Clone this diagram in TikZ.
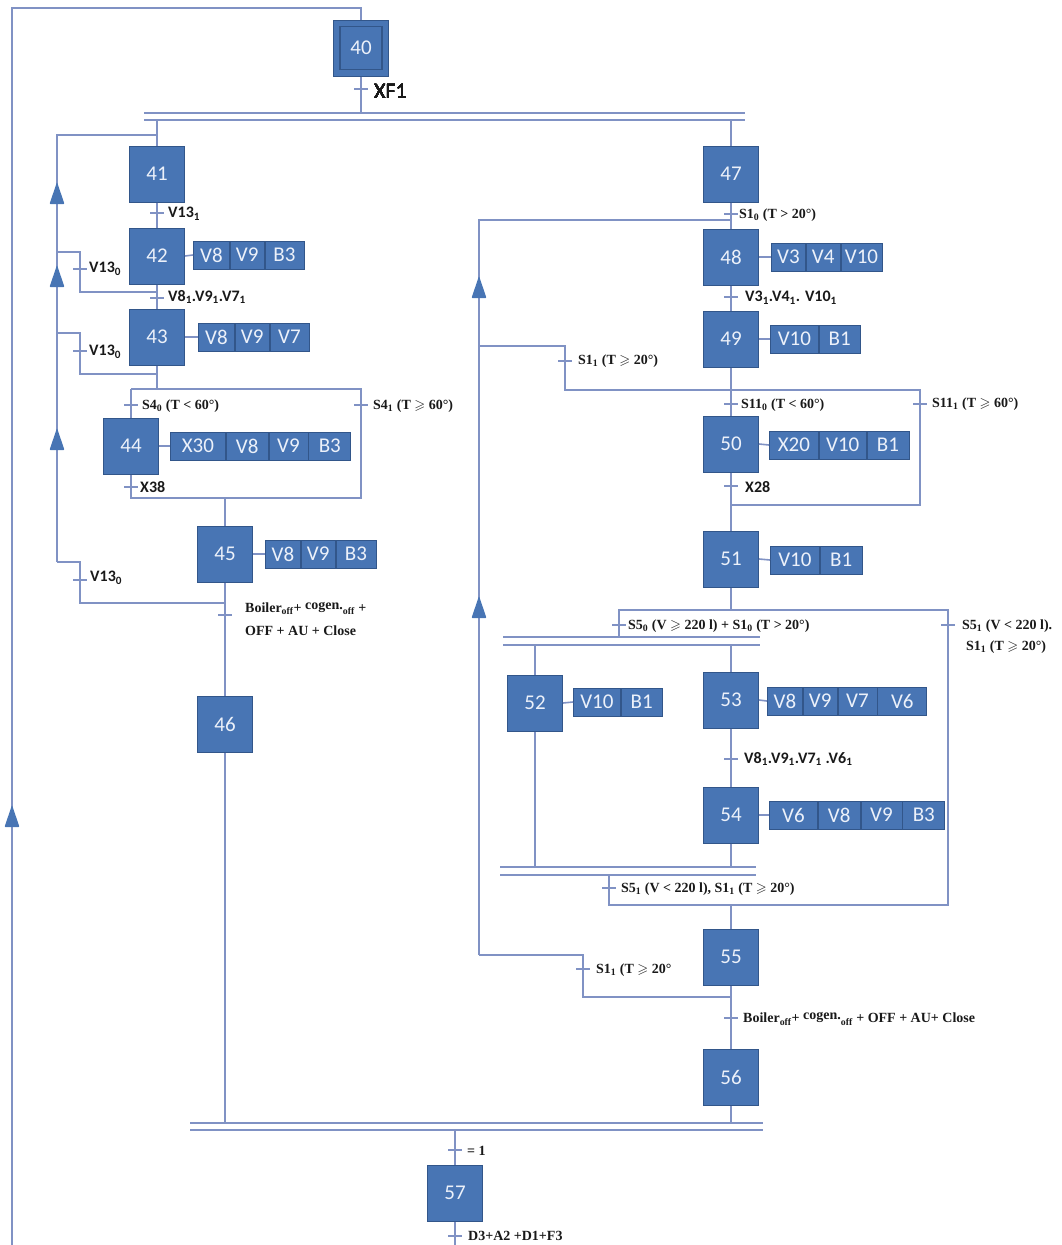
\documentclass[tikz,border=0pt]{standalone}
\usepackage{fontspec}
\usepackage{amssymb}
\setmainfont{Liberation Serif}
\newfontfamily\calib{Carlito}
\definecolor{stepfill}{RGB}{72,117,180}
\definecolor{stepdraw}{RGB}{50,86,138}
\definecolor{wirecol}{RGB}{128,146,196}
\definecolor{txtcol}{RGB}{25,25,25}
\definecolor{steptxt}{RGB}{236,241,250}
\newcommand{\gsl}{\ensuremath{\geqslant}}
\newcommand{\lsb}[1]{\textsubscript{#1}}
\newcommand{\tk}[1]{\draw[wireline] ([xshift=-7pt]#1) -- ([xshift=7pt]#1);}
\newcommand{\uparr}[2]{\fill[stepfill, rounded corners=0.8pt] ({#1-7.5},{#2+11}) -- ({#1},{#2-11}) -- ({#1+7.5},{#2+11}) -- cycle;}
\tikzset{
  wireline/.style={draw=wirecol, line width=1.6pt},
  stepbox/.style={draw=stepdraw, fill=stepfill, line width=1pt, minimum width=55pt, minimum height=56pt, inner sep=0pt, text=steptxt, font=\calib\fontsize{21}{21}\selectfont},
  cell/.style={draw=stepdraw, fill=stepfill, line width=0.8pt, minimum height=28pt, inner sep=0pt, text=steptxt, font=\calib\fontsize{21}{21}\selectfont, anchor=west},
  slab/.style={anchor=west, inner sep=0pt, text=txtcol, font=\calib\bfseries\fontsize{16}{16}\selectfont},
  rlab/.style={anchor=west, inner sep=0pt, text=txtcol, font=\bfseries\fontsize{14}{14}\selectfont},
}
\begin{document}
\begin{tikzpicture}[x=1pt,y=-1pt]
\useasboundingbox (0,0) rectangle (1061,1245);
% ---------- steps ----------
\node[stepbox] (s40) at (361,48) {40};
\draw[stepdraw, line width=1.5pt] ([shift={(7pt,7pt)}]s40.south west) rectangle ([shift={(-7pt,-7pt)}]s40.north east);
\node[stepbox] (s41) at (157,174) {41};
\node[stepbox] (s42) at (157,256) {42};
\node[stepbox] (s43) at (157,337) {43};
\node[stepbox] (s44) at (131,446) {44};
\node[stepbox] (s45) at (225,554) {45};
\node[stepbox] (s46) at (225,724) {46};
\node[stepbox] (s47) at (731,174) {47};
\node[stepbox] (s48) at (731,257) {48};
\node[stepbox] (s49) at (731,339) {49};
\node[stepbox] (s50) at (731,444) {50};
\node[stepbox] (s51) at (731,559) {51};
\node[stepbox] (s52) at (535,703) {52};
\node[stepbox] (s53) at (731,700) {53};
\node[stepbox] (s54) at (731,815) {54};
\node[stepbox] (s55) at (731,957) {55};
\node[stepbox] (s56) at (731,1077) {56};
\node[stepbox] (s57) at (455,1193) {57};
% ---------- actions ----------
\node[cell, minimum width=36pt] (a42a) at (193,255) {V8};
\node[cell, minimum width=34pt] (a42b) at (a42a.east) {V9};
\node[cell, minimum width=39pt] (a42c) at (a42b.east) {B3};
\node[cell, minimum width=36pt] (a43a) at (198,337) {V8};
\node[cell, minimum width=34pt] (a43b) at (a43a.east) {V9};
\node[cell, minimum width=39pt] (a43c) at (a43b.east) {V7};
\node[cell, minimum width=55pt] (a44a) at (170,446) {X30};
\node[cell, minimum width=42pt] (a44b) at (a44a.east) {V8};
\node[cell, minimum width=39pt] (a44c) at (a44b.east) {V9};
\node[cell, minimum width=42pt] (a44d) at (a44c.east) {B3};
\node[cell, minimum width=35pt] (a45a) at (265,554) {V8};
\node[cell, minimum width=34pt] (a45b) at (a45a.east) {V9};
\node[cell, minimum width=40pt] (a45c) at (a45b.east) {B3};
\node[cell, minimum width=34pt] (a48a) at (771,257) {V3};
\node[cell, minimum width=34pt] (a48b) at (a48a.east) {V4};
\node[cell, minimum width=41pt] (a48c) at (a48b.east) {V10};
\node[cell, minimum width=48pt] (a49a) at (770,339) {V10};
\node[cell, minimum width=41pt] (a49b) at (a49a.east) {B1};
\node[cell, minimum width=49pt] (a50a) at (769,445) {X20};
\node[cell, minimum width=47pt] (a50b) at (a50a.east) {V10};
\node[cell, minimum width=42pt] (a50c) at (a50b.east) {B1};
\node[cell, minimum width=49pt] (a51a) at (770,560) {V10};
\node[cell, minimum width=42pt] (a51b) at (a51a.east) {B1};
\node[cell, minimum width=47pt] (a52a) at (573,702) {V10};
\node[cell, minimum width=41pt] (a52b) at (a52a.east) {B1};
\node[cell, minimum width=35pt] (a53a) at (767,701) {V8};
\node[cell, minimum width=34pt] (a53b) at (a53a.east) {V9};
\node[cell, minimum width=39pt] (a53c) at (a53b.east) {V7};
\node[cell, minimum width=49pt] (a53d) at (a53c.east) {V6};
\node[cell, minimum width=48pt] (a54a) at (769,815) {V6};
\node[cell, minimum width=42pt] (a54b) at (a54a.east) {V8};
\node[cell, minimum width=41pt] (a54c) at (a54b.east) {V9};
\node[cell, minimum width=42pt] (a54d) at (a54c.east) {B3};
\foreach \s/\a in {42/42a,43/43a,44/44a,45/45a,48/48a,49/49a,50/50a,51/51a,52/52a,53/53a,54/54a}
  \draw[wireline] (s\s.east) -- (a\a.west);
% ---------- coordinates ----------
\coordinate (topL) at (12,8); \coordinate (topR) at (361,8); \coordinate (botL) at (12,1245);
\coordinate (b1L) at (144,113); \coordinate (b1R) at (745,113);
\coordinate (b2L) at (144,120); \coordinate (b2R) at (745,120);
\coordinate (b1m) at (361,113); \coordinate (b2a) at (157,120); \coordinate (b2b) at (731,120);
\coordinate (lp0) at (157,135); \coordinate (lp1) at (57,135);
\coordinate (lp42a) at (157,292); \coordinate (lp42b) at (80,292); \coordinate (lp42c) at (80,252); \coordinate (lp42d) at (57,252);
\coordinate (lp43a) at (157,374); \coordinate (lp43b) at (80,374); \coordinate (lp43c) at (80,333); \coordinate (lp43d) at (57,333);
\coordinate (lp45a) at (225,603); \coordinate (lp45b) at (80,603); \coordinate (lp45c) at (80,562); \coordinate (lp45d) at (57,562);
\coordinate (selL) at (131,389); \coordinate (selR) at (361,389); \coordinate (selM) at (157,389);
\coordinate (cvL) at (131,498); \coordinate (cvR) at (361,498); \coordinate (cvM) at (225,498);
\coordinate (f1a) at (225,1123);
\coordinate (r0) at (479,955); \coordinate (r1) at (479,220); \coordinate (r2) at (731,220);
\coordinate (s50M) at (731,390); \coordinate (lp49a) at (565,390); \coordinate (lp49b) at (565,346); \coordinate (lp49c) at (479,346);
\coordinate (s50R) at (920,390); \coordinate (c50R) at (920,505); \coordinate (c50M) at (731,505);
\coordinate (s51M) at (731,610); \coordinate (s51L) at (619,610); \coordinate (s51R) at (948,610);
\coordinate (pd1) at (619,637);
\coordinate (pA1) at (503,637); \coordinate (pB1) at (760,637); \coordinate (pA2) at (503,645); \coordinate (pB2) at (760,645);
\coordinate (pd52) at (535,645); \coordinate (pd53) at (731,645);
\coordinate (pc52) at (535,867); \coordinate (pc54) at (731,867);
\coordinate (qA1) at (500,867); \coordinate (qB1) at (756,867); \coordinate (qA2) at (500,875); \coordinate (qB2) at (756,875);
\coordinate (pc1) at (609,875); \coordinate (c55L) at (609,905); \coordinate (c55R) at (948,905); \coordinate (c55M) at (731,905);
\coordinate (lp55a) at (731,997); \coordinate (lp55b) at (583,997); \coordinate (lp55c) at (583,955);
\coordinate (f2b) at (731,1123);
\coordinate (fA1) at (190,1123); \coordinate (fB1) at (763,1123); \coordinate (fA2) at (190,1130); \coordinate (fB2) at (763,1130);
\coordinate (f3) at (455,1130); \coordinate (bot57) at (455,1245);
% ---------- wires ----------
\draw[wireline] (botL) -- (topL) -- (topR) -- (s40.north);
\draw[wireline] (s40.south) -- (b1m);
\draw[wireline] (b1L) -- (b1R); \draw[wireline] (b2L) -- (b2R);
\draw[wireline] (b2a) -- (s41.north); \draw[wireline] (b2b) -- (s47.north);
\draw[wireline] (s41.south) -- (s42.north);
\draw[wireline] (s42.south) -- (s43.north);
\draw[wireline] (lp0) -- (lp1) -- (lp45d);
\draw[wireline] (lp42a) -- (lp42b) -- (lp42c) -- (lp42d);
\draw[wireline] (lp43a) -- (lp43b) -- (lp43c) -- (lp43d);
\draw[wireline] (lp45a) -- (lp45b) -- (lp45c) -- (lp45d);
\draw[wireline] (s43.south) -- (selM);
\draw[wireline] (selL) -- (selR) -- (cvR) -- (cvL) -- (s44.south);
\draw[wireline] (selL) -- (s44.north);
\draw[wireline] (cvM) -- (s45.north);
\draw[wireline] (s45.south) -- (s46.north);
\draw[wireline] (s46.south) -- (f1a);
% right column
\draw[wireline] (r0) -- (r1) -- (r2);
\draw[wireline] (s47.south) -- (s48.north);
\draw[wireline] (s48.south) -- (s49.north);
\draw[wireline] (s49.south) -- (s50M);
\draw[wireline] (lp49c) -- (lp49b) -- (lp49a) -- (s50R) -- (c50R) -- (c50M);
\draw[wireline] (s50M) -- (s50.north);
\draw[wireline] (s50.south) -- (c50M) -- (s51.north);
\draw[wireline] (s51.south) -- (s51M);
\draw[wireline] (pd1) -- (s51L) -- (s51R) -- (c55R) -- (c55L) -- (pc1);
\draw[wireline] (pA1) -- (pB1); \draw[wireline] (pA2) -- (pB2);
\draw[wireline] (pd52) -- (s52.north); \draw[wireline] (s52.south) -- (pc52);
\draw[wireline] (pd53) -- (s53.north); \draw[wireline] (s53.south) -- (s54.north); \draw[wireline] (s54.south) -- (pc54);
\draw[wireline] (qA1) -- (qB1); \draw[wireline] (qA2) -- (qB2);
\draw[wireline] (c55M) -- (s55.north);
\draw[wireline] (s55.south) -- (s56.north);
\draw[wireline] (lp55a) -- (lp55b) -- (lp55c) -- (r0);
\draw[wireline] (s56.south) -- (f2b);
\draw[wireline] (fA1) -- (fB1); \draw[wireline] (fA2) -- (fB2);
\draw[wireline] (f3) -- (s57.north); \draw[wireline] (s57.south) -- (bot57);
% ---------- arrows ----------
\uparr{57}{193} \uparr{57}{276} \uparr{57}{439}
\uparr{479}{287} \uparr{479}{607} \uparr{12}{816}
% ---------- transitions ----------
\coordinate (t40) at (361,89);
\coordinate (t41) at (157,213);
\coordinate (t42) at (157,298);
\coordinate (t42l) at (80,269);
\coordinate (t43l) at (80,351);
\coordinate (t45l) at (80,580);
\coordinate (t44a) at (131,405);
\coordinate (t44b) at (361,405);
\coordinate (t44c) at (131,487);
\coordinate (t45) at (225,615);
\coordinate (t47) at (731,214);
\coordinate (t48) at (731,297);
\coordinate (t49l) at (565,361);
\coordinate (t50a) at (731,404);
\coordinate (t50b) at (920,404);
\coordinate (t50c) at (731,486);
\coordinate (t51a) at (619,625);
\coordinate (t51b) at (948,625);
\coordinate (t53) at (731,759);
\coordinate (tcv) at (609,888);
\coordinate (t55l) at (583,969);
\coordinate (t55) at (731,1018);
\coordinate (t57a) at (455,1150);
\coordinate (t57b) at (455,1236);
\foreach \t in {t40,t41,t42,t42l,t43l,t45l,t44a,t44b,t44c,t45,t47,t48,t49l,t50a,t50b,t50c,t51a,t51b,t53,tcv,t55l,t55,t57a,t57b}
  \tk{\t}
% ---------- labels ----------
\node[anchor=west, inner sep=0pt, text=txtcol, font=\calib\fontsize{22}{22}\selectfont] (l40) at (374,91) {XF1};
\node[slab] (l41) at (168,214) {V13\lsb{1}};
\node[slab] (l42l) at (89,269) {V13\lsb{0}};
\node[slab] (l42) at (168,297) {V8\lsb{1}.V9\lsb{1}.V7\lsb{1}};
\node[slab] (l43l) at (89,352) {V13\lsb{0}};
\node[rlab] (l44a) at (142,406) {S4\lsb{0} (T < 60°)};
\node[rlab] (l44b) at (373,406) {S4\lsb{1} (T \gsl{} 60°)};
\node[slab] (l44c) at (140,487) {X38};
\node[slab] (l45l) at (90,578) {V13\lsb{0}};
\node[rlab, align=left, font=\bfseries\fontsize{14}{23}\selectfont] (l45) at (245,619) {Boiler\lsb{off}+ \raisebox{3pt}{cogen.}\lsb{off} +\\OFF + AU + Close};
\node[rlab] (l47) at (739,215) {S1\lsb{0} (T > 20°)};
\node[slab] (l48) at (745,298) {V3\lsb{1}.V4\lsb{1}. V10\lsb{1}};
\node[rlab] (l49l) at (578,361) {S1\lsb{1} (T \gsl{} 20°)};
\node[rlab] (l50a) at (741,405) {S11\lsb{0} (T < 60°)};
\node[rlab] (l50b) at (932,404) {S11\lsb{1} (T \gsl{} 60°)};
\node[slab] (l50c) at (745,487) {X28};
\node[rlab] (l51a) at (628,626) {S5\lsb{0} (V \gsl{} 220 l) + S1\lsb{0} (T > 20°)};
\node[rlab] (l51b) at (962,626) {S5\lsb{1} (V < 220 l).};
\node[rlab] (l51c) at (966,647) {S1\lsb{1} (T \gsl{} 20°)};
\node[slab] (l53) at (744,759) {V8\lsb{1}.V9\lsb{1}.V7\lsb{1} .V6\lsb{1}};
\node[rlab] (lcv) at (621,889) {S5\lsb{1} (V < 220 l), S1\lsb{1} (T \gsl{} 20°)};
\node[rlab] (l55l) at (596,970) {S1\lsb{1} (T \gsl{} 20°};
\node[rlab] (l55) at (743,1019) {Boiler\lsb{off}+ \raisebox{3pt}{cogen.}\lsb{off} + OFF + AU+ Close};
\node[rlab] (l57a) at (467,1151) {= 1};
\node[rlab] (l57b) at (468,1236) {D3+A2 +D1+F3};
\end{tikzpicture}
\end{document}
